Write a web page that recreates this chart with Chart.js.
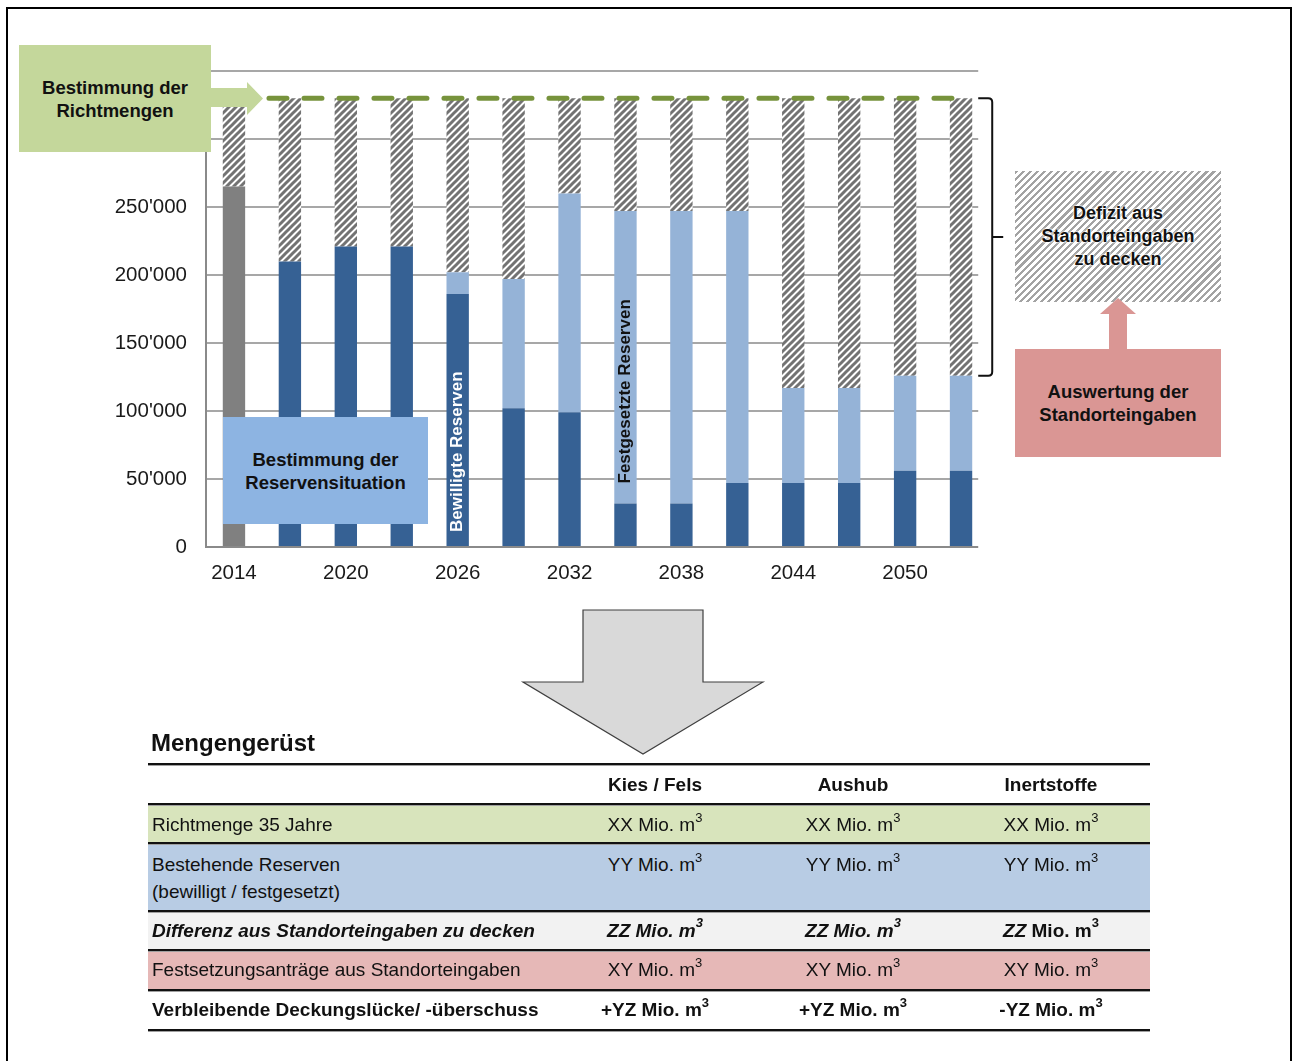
<!DOCTYPE html>
<html lang="de">
<head>
<meta charset="utf-8">
<title>Richtmengen, Reserven und Mengengerüst</title>
<script src="https://cdn.jsdelivr.net/npm/chart.js@4.4.1/dist/chart.umd.min.js"></script>
<style>
  html, body { margin: 0; padding: 0; background: #fff; }
  body {
    width: 1292px; height: 1061px; position: relative; overflow: hidden;
    font-family: 'Liberation Sans', Arial, sans-serif; color: #111;
  }
  #frame {
    position: absolute; left: 6px; top: 7px; width: 1286px; height: 1120px;
    box-sizing: border-box; border: 2.5px solid #000;
  }
  #chart { position: absolute; left: 0; top: 0; }
  .box {
    position: absolute; display: flex; align-items: center; justify-content: center;
    text-align: center; font-weight: bold; font-size: 18.5px; line-height: 23px; color: #111;
  }
  #boxRicht { left: 19px; top: 45px; width: 192px; height: 107px; background: #c4d79b; }
  #boxReserve { left: 223px; top: 417px; width: 205px; height: 107px; background: #8db4e2; }
  #boxDefizit {
    left: 1015px; top: 171px; width: 206px; height: 131px; font-size: 18px; line-height: 23px;
    background: repeating-linear-gradient(135deg, #a3a3a3 0 2.2px, #fff 2.2px 5px);
    text-shadow: 0 0 2px #fff, 0 0 2px #fff, 0 0 3px #fff;
  }
  #boxAuswertung { left: 1015px; top: 349px; width: 206px; height: 108px; background: #da9694; }
  #shapes { position: absolute; left: 0; top: 0; pointer-events: none; }

  #title {
    position: absolute; left: 151px; top: 729px; font-weight: bold; font-size: 24px; line-height: 28px;
  }
  .band { position: absolute; left: 148px; width: 1002px; }
  .rule {
    position: absolute; left: 148px; width: 1002px; height: 2px; background: #111;
    box-shadow: 0 1px 0 #a0a0a0;
  }
  .t { position: absolute; font-size: 19px; line-height: 30px; height: 30px; white-space: nowrap; }
  .lab { left: 152px; }
  .c1, .c2, .c3 { width: 220px; text-align: center; }
  .c1 { left: 545px; }
  .c2 { left: 743px; }
  .c3 { left: 941px; }
  .b { font-weight: bold; }
  .bi { font-weight: bold; font-style: italic; }
  sup { font-size: 13px; line-height: 0; position: relative; top: -2px; }
</style>
</head>
<body>
<div id="frame"></div>
<canvas id="chart" width="1292" height="600"></canvas>

<div class="box" id="boxRicht">Bestimmung der<br>Richtmengen</div>
<div class="box" id="boxReserve">Bestimmung der<br>Reservensituation</div>
<div class="box" id="boxDefizit">Defizit aus<br>Standorteingaben<br>zu decken</div>
<div class="box" id="boxAuswertung">Auswertung der<br>Standorteingaben</div>

<svg id="shapes" width="1292" height="1061" viewBox="0 0 1292 1061">
  <!-- arrow from the Richtmengen box to the target line -->
  <polygon points="211,88 247,88 247,82 263,98.5 247,115 247,107 211,107" fill="#c4d79b"/>
  <!-- arrow from the evaluation box up to the deficit -->
  <polygon points="1109,349 1109,314 1100,314 1118,298 1136,314 1127,314 1127,349" fill="#da9694"/>
  <!-- big arrow down to the summary table -->
  <polygon points="583,610 703,610 703,682 763,682 643,754 523,682 583,682"
           fill="#d9d9d9" stroke="#3f3f3f" stroke-width="1.2" stroke-linejoin="miter"/>
</svg>

<div id="title">Mengengerüst</div>

<!-- summary table -->
<div class="band" style="top:805px;height:37px;background:#d8e4bc"></div>
<div class="band" style="top:844px;height:66px;background:#b8cce4"></div>
<div class="band" style="top:912px;height:37px;background:#f2f2f2"></div>
<div class="band" style="top:951px;height:38px;background:#e6b8b7"></div>

<div class="rule" style="top:763px"></div>
<div class="rule" style="top:803px"></div>
<div class="rule" style="top:842px"></div>
<div class="rule" style="top:910px"></div>
<div class="rule" style="top:949px"></div>
<div class="rule" style="top:989px"></div>
<div class="rule" style="top:1029px"></div>

<div class="t c1 b" style="top:770px">Kies / Fels</div>
<div class="t c2 b" style="top:770px">Aushub</div>
<div class="t c3 b" style="top:770px">Inertstoffe</div>

<div class="t lab" style="top:810px">Richtmenge 35 Jahre</div>
<div class="t c1" style="top:810px">XX Mio. m<sup>3</sup></div>
<div class="t c2" style="top:810px">XX Mio. m<sup>3</sup></div>
<div class="t c3" style="top:810px">XX Mio. m<sup>3</sup></div>

<div class="t lab" style="top:850px">Bestehende Reserven</div>
<div class="t lab" style="top:876.5px">(bewilligt / festgesetzt)</div>
<div class="t c1" style="top:850px">YY Mio. m<sup>3</sup></div>
<div class="t c2" style="top:850px">YY Mio. m<sup>3</sup></div>
<div class="t c3" style="top:850px">YY Mio. m<sup>3</sup></div>

<div class="t lab bi" style="top:915.5px">Differenz aus Standorteingaben zu decken</div>
<div class="t c1 bi" style="top:915.5px">ZZ Mio. m<sup>3</sup></div>
<div class="t c2 bi" style="top:915.5px">ZZ Mio. m<sup>3</sup></div>
<div class="t c3 b" style="top:915.5px"><i>ZZ</i> Mio. m<sup>3</sup></div>

<div class="t lab" style="top:955px">Festsetzungsanträge aus Standorteingaben</div>
<div class="t c1" style="top:955px">XY Mio. m<sup>3</sup></div>
<div class="t c2" style="top:955px">XY Mio. m<sup>3</sup></div>
<div class="t c3" style="top:955px">XY Mio. m<sup>3</sup></div>

<div class="t lab b" style="top:995px">Verbleibende Deckungslücke/ -überschuss</div>
<div class="t c1 b" style="top:995px">+YZ Mio. m<sup>3</sup></div>
<div class="t c2 b" style="top:995px">+YZ Mio. m<sup>3</sup></div>
<div class="t c3 b" style="top:995px">-YZ Mio. m<sup>3</sup></div>

<script>
// ---- data (m3 per year) ----
const years = ['2014', '2017', '2020', '2023', '2026', '2029', '2032', '2035', '2038', '2041', '2044', '2047', '2050', '2053'];
const xTickLabels = ['2014', '', '2020', '', '2026', '', '2032', '', '2038', '', '2044', '', '2050', ''];
const reserven2014 = [265000, null, null, null, null, null, null, null, null, null, null, null, null, null];
const bewilligteReserven = [null, 210000, 221000, 221000, 186000, 102000, 99000, 32000, 32000, 47000, 47000, 47000, 56000, 56000];
const festgesetzteReserven = [null, null, null, null, 16000, 95000, 161000, 215000, 215000, 200000, 70000, 70000, 70000, 70000];
const defizit = [65000, 120000, 109000, 109000, 128000, 133000, 70000, 83000, 83000, 83000, 213000, 213000, 204000, 204000];
const richtmenge = [330000, 330000, 330000, 330000, 330000, 330000, 330000, 330000, 330000, 330000, 330000, 330000, 330000, 330000];
const yMax = 350000;
const yStep = 50000;
const yLabelMax = 250000;

// ---- styling ----
const FONT = "'Liberation Sans', Arial, sans-serif";
const BAR_PCT = 0.4;
const GRID_COLOR = '#8a8a8a';

function stripes(color, size, width) {
  const c = document.createElement('canvas');
  c.width = c.height = size;
  const g = c.getContext('2d');
  g.fillStyle = '#fff';
  g.fillRect(0, 0, size, size);
  g.strokeStyle = color;
  g.lineWidth = width;
  g.beginPath();
  g.moveTo(-1, size + 1); g.lineTo(size + 1, -1);
  g.moveTo(-2, 2); g.lineTo(2, -2);
  g.moveTo(size - 2, size + 2); g.lineTo(size + 2, size - 2);
  g.stroke();
  return g.createPattern(c, 'repeat');
}

function fmtThousands(v) {
  return String(v).replace(/\B(?=(\d{3})+(?!\d))/g, "'");
}

// right end of the grid: a little past the last bar
function gridRight(chart) {
  const x = chart.scales.x;
  const cat = (x.right - x.left) / years.length;
  return x.getPixelForValue(years.length - 1) + cat * BAR_PCT / 2 + 6;
}

const plotDecor = {
  id: 'plotDecor',
  beforeDatasetsDraw(chart) {
    const { ctx, chartArea, scales: { y } } = chart;
    const right = gridRight(chart);
    ctx.save();
    ctx.strokeStyle = GRID_COLOR;
    ctx.lineWidth = 1.5;
    y.ticks.forEach(t => {
      if (t.value === 0) return;
      const py = y.getPixelForValue(t.value);
      ctx.beginPath();
      ctx.moveTo(chartArea.left, py);
      ctx.lineTo(right, py);
      ctx.stroke();
    });
    ctx.restore();
  },
  afterDatasetsDraw(chart) {
    const { ctx, chartArea, scales: { x, y } } = chart;
    // base line
    ctx.save();
    ctx.strokeStyle = GRID_COLOR;
    ctx.lineWidth = 2;
    const y0 = y.getPixelForValue(0);
    ctx.beginPath();
    ctx.moveTo(chartArea.left, y0);
    ctx.lineTo(gridRight(chart), y0);
    ctx.stroke();
    ctx.restore();

    // vertical labels inside the bars
    const drawVertical = (text, idx, yStart, color) => {
      ctx.save();
      ctx.translate(x.getPixelForValue(idx), yStart);
      ctx.rotate(-Math.PI / 2);
      ctx.font = 'bold 17px ' + FONT;
      ctx.fillStyle = color;
      ctx.textAlign = 'left';
      ctx.textBaseline = 'middle';
      ctx.fillText(text, 0, 0);
      ctx.restore();
    };
    drawVertical('Bewilligte Reserven', 4, y.getPixelForValue(0) - 15, '#ffffff');
    drawVertical('Festgesetzte Reserven', 7, y.getPixelForValue(bewilligteReserven[7]) - 20, '#111111');
  },
  afterDraw(chart) {
    // brace over the deficit of the last year
    const { ctx, scales: { y } } = chart;
    const last = years.length - 1;
    const top = y.getPixelForValue(richtmenge[last]);
    const bottom = y.getPixelForValue(bewilligteReserven[last] + festgesetzteReserven[last]);
    const mid = (top + bottom) / 2;
    const x0 = gridRight(chart);
    const xv = x0 + 14;
    ctx.save();
    ctx.strokeStyle = '#111';
    ctx.lineWidth = 2;
    ctx.beginPath();
    ctx.moveTo(x0, top);
    ctx.lineTo(xv - 4, top);
    ctx.quadraticCurveTo(xv, top, xv, top + 4);
    ctx.lineTo(xv, bottom - 4);
    ctx.quadraticCurveTo(xv, bottom, xv - 4, bottom);
    ctx.lineTo(x0, bottom);
    ctx.moveTo(xv, mid);
    ctx.lineTo(xv + 11, mid);
    ctx.stroke();
    ctx.restore();
  }
};

const ctx = document.getElementById('chart').getContext('2d');
const barBase = { stack: 'bestand', barPercentage: BAR_PCT, categoryPercentage: 1, borderWidth: 0, order: 1 };

new Chart(ctx, {
  type: 'bar',
  data: {
    labels: years,
    datasets: [
      Object.assign({ label: 'Reserven 2014', data: reserven2014, backgroundColor: '#808080' }, barBase),
      Object.assign({ label: 'Bewilligte Reserven', data: bewilligteReserven, backgroundColor: '#366194' }, barBase),
      Object.assign({ label: 'Festgesetzte Reserven', data: festgesetzteReserven, backgroundColor: '#95b3d7' }, barBase),
      Object.assign({ label: 'Defizit', data: defizit, backgroundColor: stripes('#737373', 7, 3) }, barBase),
      {
        type: 'line',
        label: 'Richtmenge',
        data: richtmenge,
        stack: 'richtmenge',
        order: 0,
        borderColor: '#77933c',
        borderWidth: 5,
        borderDash: [18, 17],
        borderCapStyle: 'round',
        pointRadius: 0,
        fill: false,
        tension: 0
      }
    ]
  },
  options: {
    responsive: false,
    animation: false,
    devicePixelRatio: 1,
    layout: { padding: { top: 71, right: 303, bottom: 0, left: 0 } },
    plugins: { legend: { display: false }, tooltip: { enabled: false } },
    scales: {
      x: {
        stacked: true,
        grid: { display: false, drawTicks: false },
        border: { display: false },
        ticks: {
          autoSkip: false,
          maxRotation: 0,
          padding: 14,
          color: '#1a1a1a',
          font: { family: FONT, size: 20.5 },
          callback: (v, i) => xTickLabels[i]
        },
        afterFit: s => { s.height = 53; }
      },
      y: {
        stacked: true,
        min: 0,
        max: yMax,
        grid: { display: false, drawTicks: false },
        border: { display: true, color: GRID_COLOR, width: 2 },
        ticks: {
          stepSize: yStep,
          padding: 19,
          color: '#1a1a1a',
          font: { family: FONT, size: 20.5 },
          callback: v => (v <= yLabelMax ? fmtThousands(v) : '')
        },
        afterFit: s => { s.width = 206; }
      }
    }
  },
  plugins: [plotDecor]
});
</script>
</body>
</html>
